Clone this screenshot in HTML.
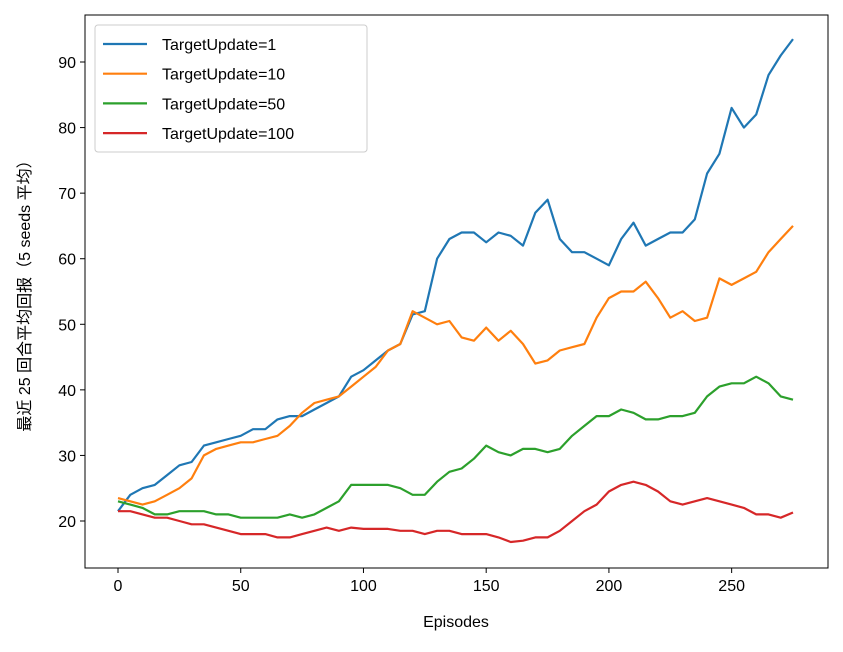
<!DOCTYPE html>
<html><head><meta charset="utf-8"><style>
body{margin:0;background:#fff}
svg text{font-family:"Liberation Sans","DejaVu Sans","Noto Sans CJK SC",sans-serif;fill:#000}
</style></head><body>
<svg id="chart" width="843" height="647">
<rect x="0" y="0" width="843" height="647" fill="#fff"/>
<g id="plot"></g>
<rect x="85" y="15" width="743" height="553" fill="none" stroke="#000" stroke-width="1"/>
<g id="xticks"></g>
<g id="yticks"></g>
<text x="456" y="627" font-size="16" text-anchor="middle">Episodes</text>
<text transform="translate(30,292) rotate(-90)" font-size="16" text-anchor="middle">最近 25 回合平均回报（5 seeds 平均）</text>
<g id="legend"></g>
</svg>
<script>
const episodes=[0,5,10,15,20,25,30,35,40,45,50,55,60,65,70,75,80,85,90,95,100,105,110,115,120,125,130,135,140,145,150,155,160,165,170,175,180,185,190,195,200,205,210,215,220,225,230,235,240,245,250,255,260,265,270,275];
const seriesT1=[21.5,24,25,25.5,27,28.5,29,31.5,32,32.5,33,34,34,35.5,36,36,37,38,39,42,43,44.5,46,47,51.5,52,60,63,64,64,62.5,64,63.5,62,67,69,63,61,61,60,59,63,65.5,62,63,64,64,66,73,76,83,80,82,88,91,93.5];
const seriesT10=[23.5,23,22.5,23,24,25,26.5,30,31,31.5,32,32,32.5,33,34.5,36.5,38,38.5,39,40.5,42,43.5,46,47,52,51,50,50.5,48,47.5,49.5,47.5,49,47,44,44.5,46,46.5,47,51,54,55,55,56.5,54,51,52,50.5,51,57,56,57,58,61,63,65];
const seriesT50=[23,22.5,22,21,21,21.5,21.5,21.5,21,21,20.5,20.5,20.5,20.5,21,20.5,21,22,23,25.5,25.5,25.5,25.5,25,24,24,26,27.5,28,29.5,31.5,30.5,30,31,31,30.5,31,33,34.5,36,36,37,36.5,35.5,35.5,36,36,36.5,39,40.5,41,41,42,41,39,38.5];
const seriesT100=[21.5,21.5,21,20.5,20.5,20,19.5,19.5,19,18.5,18,18,18,17.5,17.5,18,18.5,19,18.5,19,18.8,18.8,18.8,18.5,18.5,18,18.5,18.5,18,18,18,17.5,16.8,17,17.5,17.5,18.5,20,21.5,22.5,24.5,25.5,26,25.5,24.5,23,22.5,23,23.5,23,22.5,22,21,21,20.5,21.3];
const seriesNames=["TargetUpdate=1","TargetUpdate=10","TargetUpdate=50","TargetUpdate=100"];
const xTickVals=[0,50,100,150,200,250];
const yTickVals=[20,30,40,50,60,70,80,90];

const NS="http://www.w3.org/2000/svg";
const colors=["#1f77b4","#ff7f0e","#2ca02c","#d62728"];
const xs=v=>118+v*2.4546;
const ys=v=>521-(v-20)*6.557;
function mk(t,a){const e=document.createElementNS(NS,t);for(const k in a)e.setAttribute(k,a[k]);return e;}
const plot=document.getElementById('plot');
[seriesT1,seriesT10,seriesT50,seriesT100].forEach((s,i)=>{
  const p=mk('polyline',{points:s.map((v,j)=>xs(episodes[j]).toFixed(1)+','+ys(v).toFixed(1)).join(' '),fill:'none',stroke:colors[i],'stroke-width':2.2,'stroke-linejoin':'round'});
  
  
  plot.appendChild(p);
});
const xg=document.getElementById('xticks');
xTickVals.forEach(v=>{
  const l=mk('line',{x1:xs(v),x2:xs(v),y1:568,y2:573,stroke:'#000'});
  
  
  xg.appendChild(l);
  const t=mk('text',{x:xs(v),y:591,'font-size':16,'text-anchor':'middle'});
  
  
  t.textContent=v;xg.appendChild(t);
});
const yg=document.getElementById('yticks');
yTickVals.forEach(v=>{
  const l=mk('line',{x1:80,x2:85,y1:ys(v),y2:ys(v),stroke:'#000'});
  
  
  yg.appendChild(l);
  const t=mk('text',{x:76,y:ys(v)+6,'font-size':16,'text-anchor':'end'});
  
  
  t.textContent=v;yg.appendChild(t);
});
const lg=document.getElementById('legend');
const box=mk('rect',{x:95,y:25,width:272,height:127,rx:3,fill:'#fff','fill-opacity':0.8,stroke:'#ccc'});


lg.appendChild(box);
seriesNames.forEach((n,i)=>{
  const y=44+i*29.7;
  const l=mk('line',{x1:103,x2:147,y1:y,y2:y,stroke:colors[i],'stroke-width':2.2});
  
  
  lg.appendChild(l);
  const t=mk('text',{x:162,y:y+6,'font-size':16});
  
  
  t.textContent=n;lg.appendChild(t);
});
</script>
</body></html>
